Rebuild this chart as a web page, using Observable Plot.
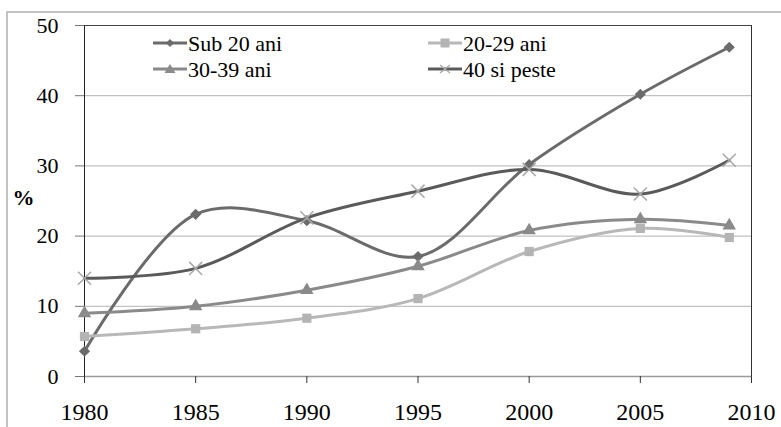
<!DOCTYPE html>
<html><head><meta charset="utf-8">
<script src="https://cdn.jsdelivr.net/npm/d3@7"></script>
<script src="https://cdn.jsdelivr.net/npm/@observablehq/plot@0.6"></script>
<style>
body{margin:0;background:#fff;}
#wrap{position:relative;width:781px;height:427px;overflow:hidden;background:#fff;}
#border{position:absolute;left:6px;top:11px;width:800px;height:500px;border-left:2px solid #c4c4c4;border-top:2px solid #c4c4c4;}
#chart{position:absolute;left:0;top:0;}
</style>
</head><body>
<div id="wrap"><div id="border"></div><div id="chart"></div></div>
<script>
const years = [1980, 1985, 1990, 1995, 2000, 2005, 2009];
const seriesNames = ["Sub 20 ani", "20-29 ani", "30-39 ani", "40 si peste"];
const sub20 = [3.6, 23.1, 22.2, 17.1, 30.2, 40.2, 46.9];
const age2029 = [5.7, 6.8, 8.3, 11.1, 17.8, 21.1, 19.8];
const age3039 = [9.0, 10.0, 12.3, 15.7, 20.8, 22.4, 21.5];
const age40 = [14.0, 15.4, 22.6, 26.4, 29.5, 26.0, 30.8];
const xTicks = [1980, 1985, 1990, 1995, 2000, 2005, 2010];
const yTicks = [0, 10, 20, 30, 40, 50];
const yLabel = "%";

const FONT = "serif";
const lineColors = ["#6b6b6b", "#b8b8b8", "#8a8a8a", "#5a5a5a"];
const symbols = ["diamond2", "square", "triangle", "times"];
const markFill = ["#6b6b6b", "#b4b4b4", "#8a8a8a", "none"];
const markStroke = ["none", "none", "none", "#a8a8a8"];
const markR = [5, 5.2, 5, 6];
const values = [sub20, age2029, age3039, age40];

const rows = [];
values.forEach((arr, s) => arr.forEach((v, i) => rows.push({series: seriesNames[s], year: years[i], value: v})));

function legendMark() {
  const pos = [[153, 43], [428, 43], [153, 69], [428, 69]];
  const g = d3.create("svg:g").attr("text-anchor", "start");
  seriesNames.forEach((name, s) => {
    const [x0, y0] = pos[s];
    const w = 34, c = x0 + w / 2;
    g.append("line").attr("x1", x0).attr("x2", x0 + w).attr("y1", y0).attr("y2", y0)
      .attr("stroke", lineColors[s]).attr("stroke-width", 3);
    if (symbols[s] === "diamond2") g.append("path").attr("d", `M${c},${y0-4}L${c+4},${y0}L${c},${y0+4}L${c-4},${y0}Z`).attr("fill", markFill[s]);
    if (symbols[s] === "square") g.append("rect").attr("x", c - 4.5).attr("y", y0 - 4.5).attr("width", 9).attr("height", 9).attr("fill", markFill[s]);
    if (symbols[s] === "triangle") g.append("path").attr("d", `M${c},${y0-5}L${c+5.5},${y0+4}L${c-5.5},${y0+4}Z`).attr("fill", markFill[s]);
    if (symbols[s] === "times") g.append("path").attr("d", `M${c-5},${y0-4}L${c+5},${y0+4}M${c-5},${y0+4}L${c+5},${y0-4}`).attr("stroke", markStroke[s]).attr("stroke-width", 1.3);
    g.append("text").attr("x", x0 + w + 1).attr("y", y0 + 7.5).attr("text-anchor", "start")
      .attr("font-family", FONT).attr("font-size", 22).attr("fill", "#000").text(name);
  });
  return g.node();
}

const marks = [
  Plot.gridY([10, 20, 30, 40], {stroke: "#b3b3b3", strokeOpacity: 1}),
  Plot.ruleY([0], {stroke: "#9a9a9a", strokeWidth: 1.5}),
  Plot.ruleY([50], {stroke: "#444"}),
  Plot.ruleX([1980], {stroke: "#222"}),
  Plot.ruleX([2010], {stroke: "#333"}),
  Plot.axisY({ticks: yTicks, tickSize: 9, tickPadding: 17, stroke: "#777", fontSize: 22, fontFamily: FONT, label: null}),
  Plot.axisX({ticks: xTicks, tickSize: 7, tickPadding: 19, stroke: "#333", fontSize: 24, fontFamily: FONT, label: null, tickFormat: d => String(d)}),
  Plot.text([yLabel], {text: d => d, frameAnchor: "left", dx: -72, dy: -3, textAnchor: "start", fontFamily: FONT, fontWeight: "bold", fontSize: 22, fill: "#000"})
];
seriesNames.forEach((name, s) => {
  const data = rows.filter(r => r.series === name);
  marks.push(Plot.line(data, {x: "year", y: "value", curve: "catmull-rom", stroke: lineColors[s], strokeWidth: 3}));
});
seriesNames.forEach((name, s) => {
  const data = rows.filter(r => r.series === name);
  marks.push(Plot.dot(data, {x: "year", y: "value", symbol: symbols[s], r: markR[s], fill: markFill[s], stroke: markStroke[s], strokeWidth: 1.5}));
});
marks.push(legendMark);

const chart = Plot.plot({
  width: 781, height: 427,
  marginLeft: 84, marginRight: 30, marginTop: 25, marginBottom: 51,
  x: {domain: [1980, 2010]},
  y: {domain: [0, 50]},
  style: {color: "#000", background: "transparent"},
  marks
});
document.getElementById("chart").appendChild(chart);
</script>
</body></html>
